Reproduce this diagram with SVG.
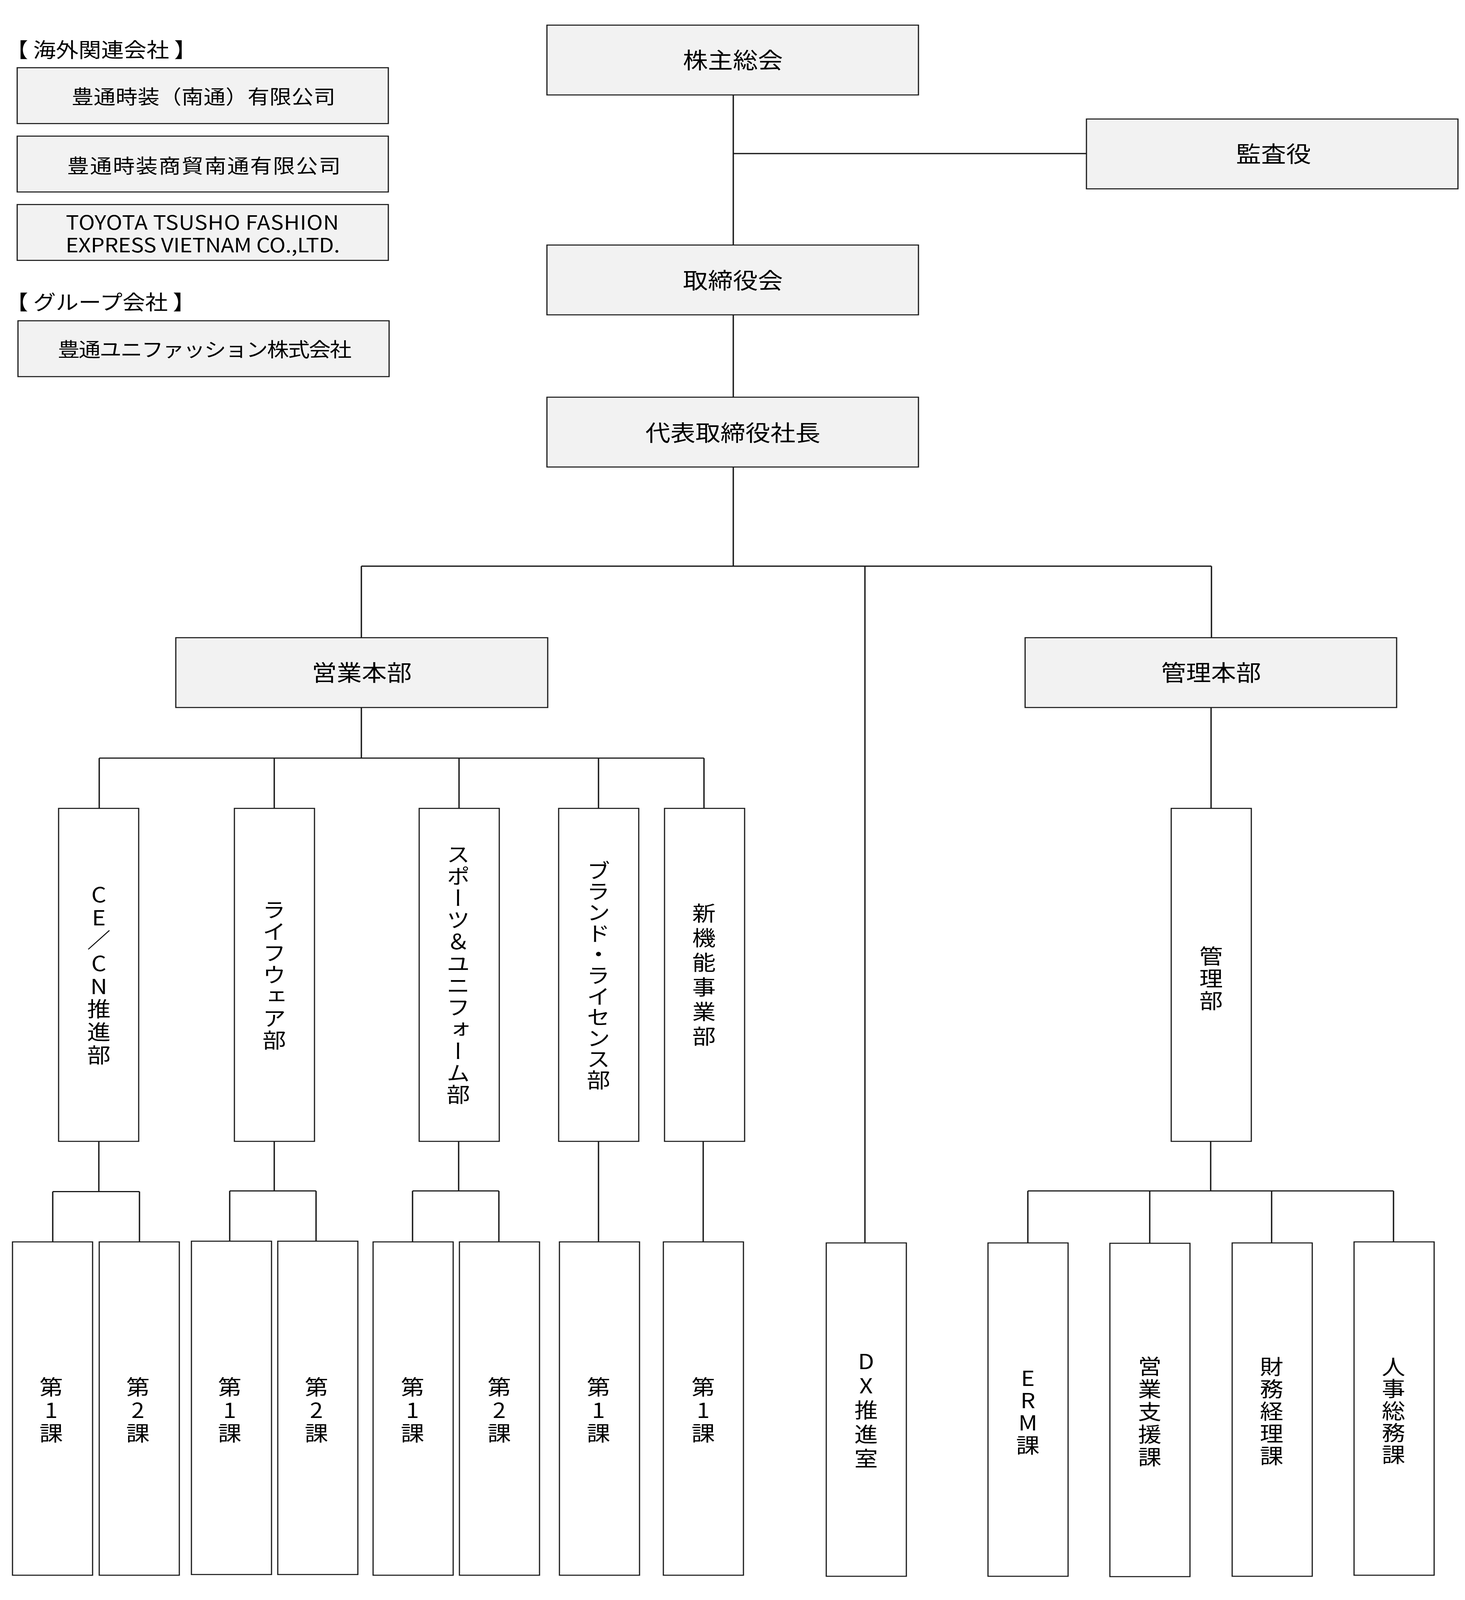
<svg xmlns="http://www.w3.org/2000/svg" width="3750" height="4584" viewBox="0 0 3750 4584" preserveAspectRatio="none">
<style>
svg{width:100vw;height:100vh;display:block}
text{font-family:"Noto Sans CJK JP","Noto Sans",sans-serif;fill:#000}
.box{fill:#f2f2f2;stroke:#1a1a1a;stroke-width:3}
.wbox{fill:#ffffff;stroke:#1a1a1a;stroke-width:3}
.h{font-size:64px;text-anchor:middle}
.s{font-size:56px;text-anchor:middle}
.hd{font-size:58px}
.v{font-size:60px;text-anchor:middle;writing-mode:vertical-rl;text-orientation:upright}
.c{fill:none;stroke:#1a1a1a;stroke-width:3.5}
</style>
<rect x="0" y="0" width="3750" height="4584" fill="#ffffff"/>

<g id="connectors" class="c">
<path d="M1877 272V1622"/>
<path d="M1877 440H2781"/>
<path d="M925 1622H3101"/>
<path d="M925 1622V1827"/>
<path d="M3101 1622V1827"/>
<path d="M2214 1622V3561"/>
<path d="M925 2027V2172"/>
<path d="M254 2172H1802"/>
<path d="M254 2172V2316M702 2172V2316M1175 2172V2316M1532 2172V2316M1802 2172V2316"/>
<path d="M253 3270V3414M135 3414H357M135 3414V3558M357 3414V3558"/>
<path d="M702 3270V3412M588 3412H809M588 3412V3556M809 3412V3556"/>
<path d="M1174 3270V3412M1056 3412H1277M1056 3412V3558M1277 3412V3558"/>
<path d="M1532 3270V3558"/>
<path d="M1800 3270V3558"/>
<path d="M3100 2027V2316"/>
<path d="M3099 3270V3412M2631 3412H3567M2631 3412V3561M2943 3412V3562M3255 3412V3561M3567 3412V3558"/>
</g>

<g id="label-overseas">
<text class="hd" x="14" y="164">【 海外関連会社 】</text>
</g>
<g id="sub1">
<rect class="box" x="44" y="194" width="950" height="160"/>
<text class="s" x="521" y="298" textLength="675">豊通時装（南通）有限公司</text>
</g>
<g id="sub2">
<rect class="box" x="44" y="390" width="950" height="160"/>
<text class="s" x="522" y="496" textLength="700">豊通時装商貿南通有限公司</text>
</g>
<g id="sub3">
<rect class="box" x="44" y="586" width="950" height="160"/>
<text class="s" font-size="60"><tspan x="518" y="658" textLength="699">TOYOTA TSUSHO FASHION</tspan><tspan x="519" y="723" textLength="702">EXPRESS VIETNAM CO.,LTD.</tspan></text>
</g>
<g id="label-group">
<text class="hd" x="14" y="887">【 グループ会社 】</text>
</g>
<g id="sub4">
<rect class="box" x="46" y="919" width="950" height="160"/>
<text class="s" x="524" y="1022" textLength="752">豊通ユニファッション株式会社</text>
</g>

<g id="shareholders">
<rect class="box" x="1400" y="72" width="951" height="200"/>
<text class="h" x="1876" y="196">株主総会</text>
</g>
<g id="auditor">
<rect class="box" x="2781" y="341" width="951" height="200"/>
<text class="h" x="3260" y="465">監査役</text>
</g>
<g id="board">
<rect class="box" x="1400" y="702" width="951" height="200"/>
<text class="h" x="1876" y="827">取締役会</text>
</g>
<g id="president">
<rect class="box" x="1400" y="1138" width="951" height="200"/>
<text class="h" x="1876" y="1263">代表取締役社長</text>
</g>
<g id="sales-hq">
<rect class="box" x="450" y="1827" width="952" height="200"/>
<text class="h" x="926" y="1951">営業本部</text>
</g>
<g id="admin-hq">
<rect class="box" x="2624" y="1827" width="951" height="200"/>
<text class="h" x="3100" y="1951">管理本部</text>
</g>

<g id="dept-cecn">
<rect class="wbox" x="150" y="2316" width="205" height="954"/>
<text class="v" x="253" y="2795" letter-spacing="5.7">CE／CN推進部</text>
</g>
<g id="dept-life">
<rect class="wbox" x="600" y="2316" width="205" height="954"/>
<text class="v" x="702" y="2794" letter-spacing="2.2">ライフウェア部</text>
</g>
<g id="dept-sports">
<rect class="wbox" x="1073" y="2316" width="205" height="954"/>
<text class="v" x="1173" y="2793" letter-spacing="2.6">スポーツ＆ユニフォーム部</text>
</g>
<g id="dept-brand">
<rect class="wbox" x="1430" y="2316" width="205" height="954"/>
<text class="v" x="1532" y="2794" letter-spacing="0">ブランド・ライセンス部</text>
</g>
<g id="dept-new">
<rect class="wbox" x="1701" y="2316" width="205" height="954"/>
<text class="v" x="1802" y="2798" letter-spacing="10.5">新機能事業部</text>
</g>
<g id="dept-admin">
<rect class="wbox" x="2998" y="2316" width="205" height="954"/>
<text class="v" x="3100" y="2805" letter-spacing="4">管理部</text>
</g>

<g id="sec-cecn-1">
<rect class="wbox" x="32" y="3558" width="205" height="955"/>
<text class="v" x="131" y="4043" letter-spacing="6">第1課</text>
</g>
<g id="sec-cecn-2">
<rect class="wbox" x="254" y="3558" width="205" height="955"/>
<text class="v" x="353" y="4043" letter-spacing="6">第2課</text>
</g>
<g id="sec-life-1">
<rect class="wbox" x="490" y="3556" width="205" height="955"/>
<text class="v" x="588" y="4043" letter-spacing="6">第1課</text>
</g>
<g id="sec-life-2">
<rect class="wbox" x="711" y="3556" width="205" height="955"/>
<text class="v" x="810" y="4043" letter-spacing="6">第2課</text>
</g>
<g id="sec-sports-1">
<rect class="wbox" x="955" y="3558" width="205" height="955"/>
<text class="v" x="1056" y="4043" letter-spacing="6">第1課</text>
</g>
<g id="sec-sports-2">
<rect class="wbox" x="1176" y="3558" width="205" height="955"/>
<text class="v" x="1278" y="4043" letter-spacing="6">第2課</text>
</g>
<g id="sec-brand-1">
<rect class="wbox" x="1432" y="3558" width="205" height="955"/>
<text class="v" x="1532" y="4043" letter-spacing="6">第1課</text>
</g>
<g id="sec-new-1">
<rect class="wbox" x="1698" y="3558" width="205" height="955"/>
<text class="v" x="1800" y="4043" letter-spacing="6">第1課</text>
</g>
<g id="dx">
<rect class="wbox" x="2115" y="3561" width="205" height="955"/>
<text class="v" x="2217" y="4044" letter-spacing="9.7">DX推進室</text>
</g>
<g id="sec-erm">
<rect class="wbox" x="2529" y="3561" width="205" height="955"/>
<text class="v" x="2631" y="4046" letter-spacing="4.3">ERM課</text>
</g>
<g id="sec-support">
<rect class="wbox" x="2841" y="3562" width="205" height="955"/>
<text class="v" x="2943" y="4047" letter-spacing="5">営業支援課</text>
</g>
<g id="sec-finance">
<rect class="wbox" x="3154" y="3561" width="205" height="955"/>
<text class="v" x="3255" y="4045" letter-spacing="4">財務経理課</text>
</g>
<g id="sec-hr">
<rect class="wbox" x="3466" y="3558" width="205" height="955"/>
<text class="v" x="3567" y="4043" letter-spacing="3">人事総務課</text>
</g>
</svg>
